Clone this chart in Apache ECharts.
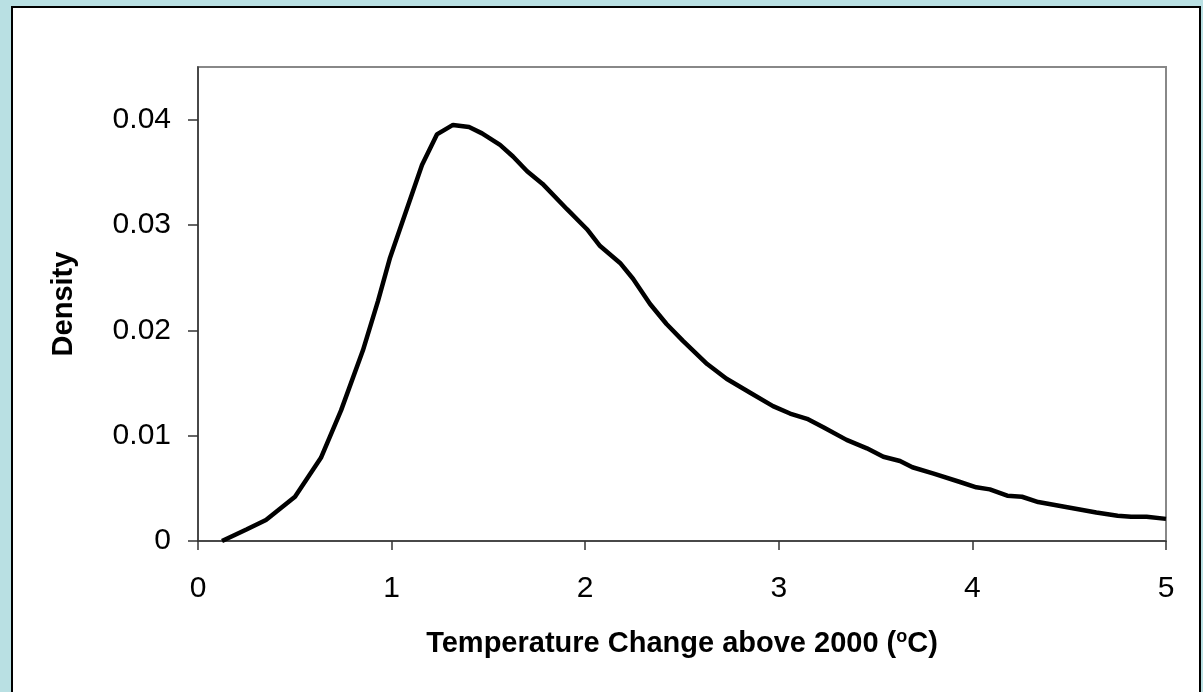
<!DOCTYPE html>
<html>
<head>
<meta charset="utf-8">
<script src="https://cdn.jsdelivr.net/npm/echarts@6/dist/echarts.min.js"></script>
<style>html,body{margin:0;padding:0;background:#b9e0e3;}#c{width:1203px;height:692px;}</style>
</head>
<body>
<div id="c"></div>
<script>
const tempX = [0.124, 0.25, 0.351, 0.501, 0.635, 0.739, 0.852, 0.93, 0.992, 1.08, 1.157, 1.234, 1.317, 1.4, 1.467, 1.56, 1.627, 1.70, 1.78, 1.906, 2.009, 2.077, 2.18, 2.247, 2.335, 2.42, 2.505, 2.63, 2.73, 2.85, 2.97, 3.058, 3.146, 3.23, 3.35, 3.455, 3.54, 3.626, 3.69, 3.80, 3.936, 4.02, 4.09, 4.18, 4.256, 4.34, 4.49, 4.64, 4.75, 4.82, 4.90, 5.0];
const density = [0, 0.0011, 0.0020, 0.0042, 0.0079, 0.0124, 0.0181, 0.0228, 0.0269, 0.0316, 0.0357, 0.0386, 0.0395, 0.0393, 0.0387, 0.0376, 0.0365, 0.0351, 0.0339, 0.0315, 0.0296, 0.0280, 0.0264, 0.0249, 0.0225, 0.0206, 0.0190, 0.0168, 0.0154, 0.0141, 0.0128, 0.0121, 0.0116, 0.0108, 0.0096, 0.0088, 0.0080, 0.0076, 0.0070, 0.0064, 0.0056, 0.0051, 0.0049, 0.0043, 0.0042, 0.0037, 0.0032, 0.0027, 0.0024, 0.0023, 0.0023, 0.0021];
const yTicks = [0, 0.01, 0.02, 0.03, 0.04];
const yTickLabels = ['0', '0.01', '0.02', '0.03', '0.04'];
const xTicks = [0, 1, 2, 3, 4, 5];
const xTitle = 'Temperature Change above 2000 ({sup|o}C)';
const yTitle = 'Density';

const chart = echarts.init(document.getElementById('c'), null, {renderer: 'canvas'});
const font = '"Liberation Sans", Arial, sans-serif';
chart.setOption({
  backgroundColor: '#b9e0e3',
  animation: false,
  graphic: [{
    type: 'rect', z: -10, silent: true,
    shape: {x: 12, y: 7, width: 1188, height: 700},
    style: {fill: '#ffffff', stroke: '#000000', lineWidth: 2}
  }],
  grid: {left: 198, top: 67, right: 37, bottom: 151, show: true, borderColor: '#888888', borderWidth: 2, backgroundColor: 'transparent'},
  xAxis: {
    type: 'value', min: 0, max: 5, interval: 1,
    splitLine: {show: false},
    axisLine: {show: true, onZero: false, lineStyle: {color: '#333', width: 1.5}},
    axisTick: {show: true, length: 9, lineStyle: {color: '#333', width: 1.5}, customValues: xTicks},
    axisLabel: {fontSize: 30, fontFamily: font, color: '#000', margin: 33, customValues: xTicks},
    name: xTitle, nameLocation: 'middle', nameGap: 87,
    nameTextStyle: {fontSize: 29, fontWeight: 'bold', fontFamily: font, color: '#000',
      rich: {sup: {fontSize: 18, fontWeight: 'bold', fontFamily: font, color: '#000', padding: [0, 0, 14, 0]}}}
  },
  yAxis: {
    type: 'value', min: 0, max: 0.045, interval: 0.01,
    splitLine: {show: false},
    axisLine: {show: true, onZero: false, lineStyle: {color: '#333', width: 1.5}},
    axisTick: {show: true, length: 10, lineStyle: {color: '#333', width: 1.5}, customValues: yTicks},
    axisLabel: {fontSize: 30, fontFamily: font, color: '#000', margin: 27, customValues: yTicks,
      formatter: function (v) { const i = yTicks.findIndex(t => Math.abs(t - v) < 1e-9); return i >= 0 ? yTickLabels[i] : ''; }},
    name: yTitle, nameLocation: 'middle', nameGap: 120, nameRotate: 90,
    nameTextStyle: {fontSize: 29, fontWeight: 'bold', fontFamily: font, color: '#000'}
  },
  series: [{
    type: 'line', showSymbol: false, smooth: false,
    lineStyle: {color: '#000', width: 4.5},
    data: tempX.map((x, i) => [x, density[i]])
  }]
});
</script>
</body>
</html>
